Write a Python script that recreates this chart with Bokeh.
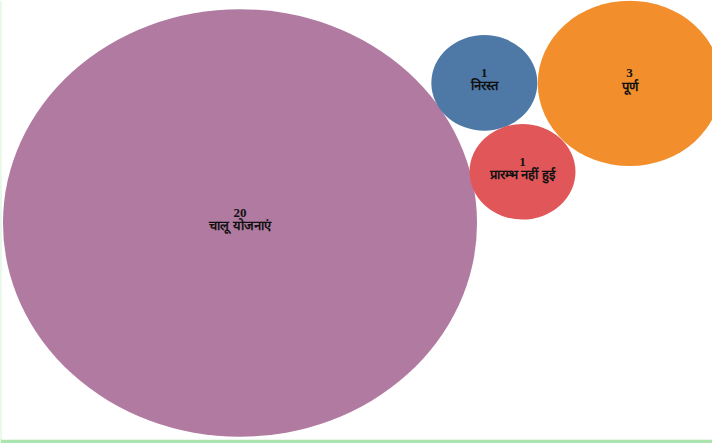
from bokeh.plotting import figure
from bokeh.models import ColumnDataSource, Range1d
from bokeh.core.properties import value
from bokeh.embed import file_html
from bokeh.resources import INLINE
import numpy as np

# data
labels = ["चालू योजनाएं", "निरस्त", "प्रारम्भ नहीं हुई", "पूर्ण"]
counts = [20, 1, 1, 3]
colors = ["#B07AA1", "#4E79A7", "#E15759", "#F28E2B"]
# bubble centres from the packed layout (layout units, radius = sqrt(count))
cx = [4.50, 9.11, 9.83, 11.85]
cy = [4.53, 7.46, 5.60, 7.45]

size = [2 * np.sqrt(c) for c in counts]
src = ColumnDataSource(dict(x=cx, y=cy, w=size, h=size, color=colors,
                            num=[str(c) for c in counts], label=labels))

p = figure(width=712, height=443, output_backend="svg", toolbar_location=None,
           x_range=Range1d(0, 13.415), y_range=Range1d(0, 9.184),
           min_border_left=1, min_border_bottom=4, min_border_top=0, min_border_right=0,
           margin=(0, 0, 0, 0))
p.border_fill_color = "#AAE4AF"
p.background_fill_color = "white"
p.outline_line_color = None
p.axis.visible = False
p.grid.visible = False

p.ellipse(x="x", y="y", width="w", height="h", fill_color="color", line_color=None, source=src)
p.text(x="x", y="y", text="num", y_offset=-10, text_align="center", text_baseline="middle",
       text_font=value("Liberation Serif"), text_font_style="bold", text_font_size="13px",
       text_color="#111111", source=src)
p.text(x="x", y="y", text="label", y_offset=3, text_align="center", text_baseline="middle",
       text_font=value("Liberation Serif"), text_font_style="bold", text_font_size="13px",
       text_color="#111111", source=src)

open("out.html", "w").write(file_html(p, INLINE))
